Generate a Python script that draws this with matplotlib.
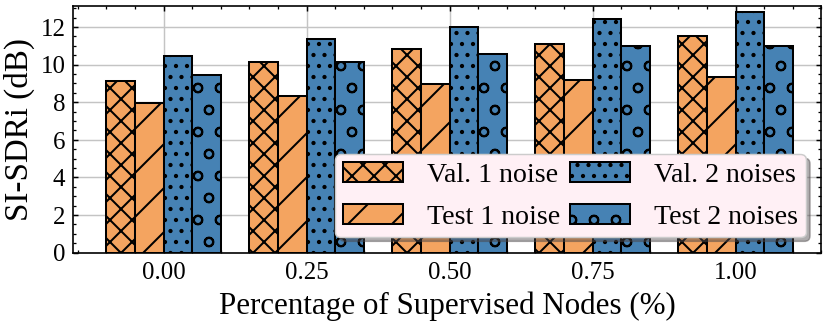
import matplotlib
matplotlib.use("Agg")
import matplotlib.pyplot as plt
import matplotlib.ticker as mticker
import numpy as np

# --- data --------------------------------------------------------------------
PERCENTS = [0.00, 0.25, 0.50, 0.75, 1.00]
TICK_LABELS = ["0.00", "0.25", "0.50", "0.75", "1.00"]
SERIES = ["Val. 1 noise", "Test 1 noise", "Val. 2 noises", "Test 2 noises"]
VAL_1 = [9.15, 10.15, 10.83, 11.11, 11.50]
TEST_1 = [7.96, 8.31, 8.96, 9.18, 9.35]
VAL_2 = [10.44, 11.36, 11.98, 12.44, 12.82]
TEST_2 = [9.44, 10.12, 10.54, 10.99, 10.97]

ORANGE = "#F4A460"
BLUE = "#4682B4"
COLORS = [ORANGE, ORANGE, BLUE, BLUE]
HATCHES = ["xxxx", "//", "....", "oo"]

DPI = 264
BAR_W = 0.05

plt.rcParams.update({
    "font.family": ["Liberation Serif", "DejaVu Serif"],
    "font.size": 6.8,
    "axes.linewidth": 0.45,
    "axes.edgecolor": "black",
    "hatch.linewidth": 0.55,
    "hatch.color": "black",
    "xtick.direction": "in",
    "ytick.direction": "in",
    "xtick.top": True,
    "ytick.right": True,
    "xtick.major.size": 1.4,
    "ytick.major.size": 1.4,
    "xtick.minor.size": 0.8,
    "ytick.minor.size": 0.8,
    "xtick.major.width": 0.4,
    "ytick.major.width": 0.4,
    "xtick.minor.width": 0.35,
    "ytick.minor.width": 0.35,
    "xtick.minor.visible": True,
    "ytick.minor.visible": True,
    "xtick.major.pad": 2.5,
    "ytick.major.pad": 2.0,
    "grid.color": "#c4c4c4",
    "grid.linewidth": 0.4,
})

fig = plt.figure(figsize=(831.3 / DPI, 323.3 / DPI), dpi=DPI)
ax = fig.add_axes([0.0875, 0.2176, 0.9005, 0.7638])

x = np.array(PERCENTS)
for i, (vals, lab, col, hat) in enumerate(zip([VAL_1, TEST_1, VAL_2, TEST_2],
                                               SERIES, COLORS, HATCHES)):
    ax.bar(x + (i - 1.5) * BAR_W, vals, BAR_W, color=col, edgecolor="black",
           linewidth=0.55, hatch=hat, label=lab, zorder=2)

ax.set_xlim(-0.159, 1.15)
ax.set_ylim(0, 13.13)
ax.set_xticks(PERCENTS)
ax.set_xticklabels(TICK_LABELS)
ax.xaxis.set_minor_locator(mticker.MultipleLocator(0.05))
ax.yaxis.set_major_locator(mticker.MultipleLocator(2))
ax.yaxis.set_minor_locator(mticker.MultipleLocator(0.5))
ax.grid(True, which="major", zorder=0)
ax.set_axisbelow(True)

ax.set_xlabel("Percentage of Supervised Nodes (%)", fontsize=8.45, labelpad=2)
ax.set_ylabel("SI-SDRi (dB)", fontsize=9.0, labelpad=1.5)

leg = ax.legend(ncol=2, loc="lower right", fontsize=7.6, frameon=True,
                fancybox=True, shadow={"ox": 1.1, "oy": -1.1, "alpha": 0.45},
                facecolor="lavenderblush", framealpha=1.0, edgecolor="#cccccc",
                borderaxespad=0.55, borderpad=0.28, columnspacing=0.36,
                handletextpad=0.86, handlelength=2.15, handleheight=0.72,
                labelspacing=0.58)
leg.get_frame().set_linewidth(0.4)

fig.savefig("out.png", dpi=DPI)
